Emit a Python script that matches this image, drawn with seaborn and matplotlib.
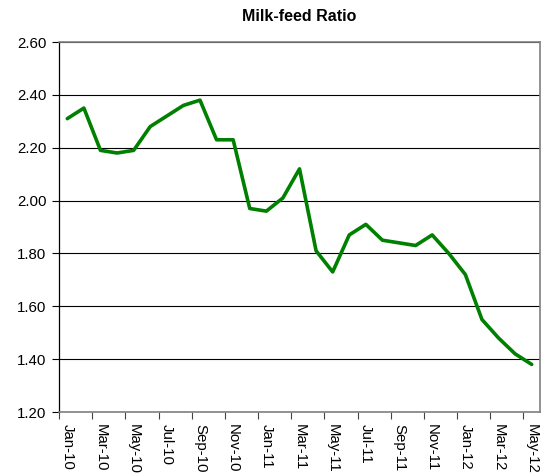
import numpy as np
import pandas as pd
import matplotlib
matplotlib.use("Agg")
import matplotlib.pyplot as plt
import seaborn as sns

# Datos (mensual, Jan-10 a May-12)
meses = ['Jan-10', 'Feb-10', 'Mar-10', 'Apr-10', 'May-10', 'Jun-10', 'Jul-10', 'Aug-10',
         'Sep-10', 'Oct-10', 'Nov-10', 'Dec-10', 'Jan-11', 'Feb-11', 'Mar-11', 'Apr-11',
         'May-11', 'Jun-11', 'Jul-11', 'Aug-11', 'Sep-11', 'Oct-11', 'Nov-11', 'Dec-11',
         'Jan-12', 'Feb-12', 'Mar-12', 'Apr-12', 'May-12']
ratio = [2.31, 2.35, 2.19, 2.18, 2.19, 2.28, 2.32, 2.36, 2.38, 2.23, 2.23, 1.97, 1.96,
         2.01, 2.12, 1.81, 1.73, 1.87, 1.91, 1.85, 1.84, 1.83, 1.87, 1.80, 1.72, 1.55,
         1.48, 1.42, 1.38]
yticks = [1.20, 1.40, 1.60, 1.80, 2.00, 2.20, 2.40, 2.60]

df = pd.DataFrame({'pos': np.arange(len(meses)), 'mes': meses, 'ratio': ratio})

sns.set_style('white')
plt.rcParams['font.family'] = ['Liberation Sans', 'DejaVu Sans']
plt.rcParams['text.color'] = 'black'
plt.rcParams['xtick.color'] = 'black'
plt.rcParams['ytick.color'] = 'black'

fig = plt.figure(figsize=(5.48, 4.75), dpi=100)
ax = fig.add_axes([59 / 548, 1 - 412 / 475, 481 / 548, 370 / 475])

sns.lineplot(data=df, x='pos', y='ratio', color='#008000', linewidth=2.6, ax=ax)

ax.set_xlim(-0.5, len(meses) - 0.5)
ax.set_ylim(1.2, 2.6)
ax.set_yticks(yticks)
ax.set_yticklabels([f'{v:.2f}' for v in yticks], fontsize=10.8, color='black')
ax.yaxis.grid(True, color='black', linewidth=0.8)
ax.set_axisbelow(True)

# etiquetas cada dos meses, marcas entre categorias
ax.set_xticks(df['pos'][::2])
ax.set_xticklabels(df['mes'][::2], rotation=270, fontsize=10.8, va='top', ha='center', color='black')
ax.set_xticks(np.arange(-0.5, len(meses) - 1, 2), minor=True)
ax.tick_params(axis='x', which='major', length=0, pad=9)
ax.tick_params(axis='x', which='minor', length=5, width=0.8, color='#444444', direction='out', bottom=True)
ax.tick_params(axis='y', length=5, width=0.8, color='black', direction='out', left=True, pad=4)

ax.set_xlabel('')
ax.set_ylabel('')
ax.set_title('Milk-feed Ratio', fontsize=11.5, fontweight='bold', pad=15, color='black')

for lado in ['top', 'right', 'bottom']:
    ax.spines[lado].set_color('#808080')
    ax.spines[lado].set_linewidth(1.2)
ax.spines['left'].set_color('black')
ax.spines['left'].set_linewidth(0.9)

fig.savefig('out.png', dpi=100)
